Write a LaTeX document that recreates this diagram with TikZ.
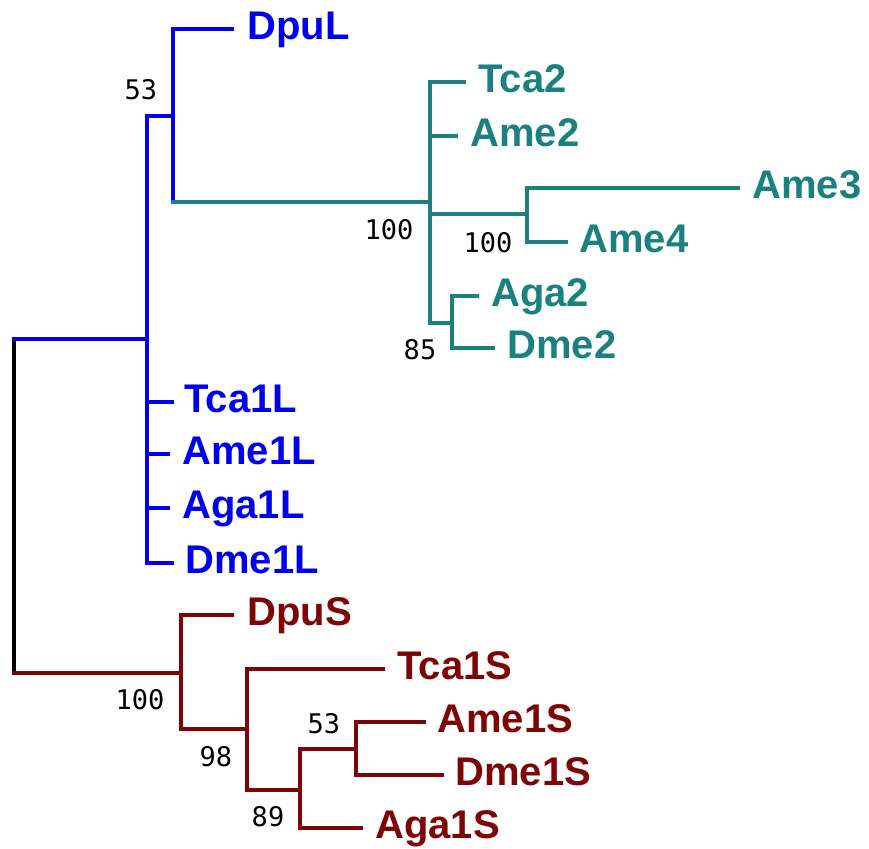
\documentclass[tikz,border=0pt]{standalone}
\usepackage{fontspec}
\setmainfont{Liberation Sans}
\newfontfamily\bsfont{DejaVu Sans Mono}
\definecolor{cblue}{RGB}{0,0,240}
\definecolor{cteal}{RGB}{26,128,128}
\definecolor{cred}{RGB}{125,5,5}
\begin{document}
\begin{tikzpicture}[x=0.5pt,y=-0.5pt,
  br/.style={line width=1.75pt, line cap=rect, line join=miter},
  leaf/.style={anchor=base west, inner sep=0pt, font=\fontsize{20}{20}\selectfont\bfseries},
  boot/.style={inner sep=0pt, font=\bsfont\fontsize{13.5}{13.5}\selectfont, text=black}]
\useasboundingbox (0,0) rectangle (869,849);
% internal nodes
\coordinate (rootT) at (14,339);
\coordinate (rootB) at (14,673);
\coordinate (L) at (147,339);
\coordinate (n53) at (173,116);
\coordinate (n53b) at (173,202);
\coordinate (Tb) at (430,202);
\coordinate (A34) at (527,214);
\coordinate (AD) at (452,323);
\coordinate (S) at (181,673);
\coordinate (n98) at (247,729);
\coordinate (n89) at (300,790);
\coordinate (n53S) at (356,749);
% tips
\coordinate (tDpuL) at (232,29);
\coordinate (tTca2) at (464,82);
\coordinate (tAme2) at (456,136);
\coordinate (tAme3) at (738,188);
\coordinate (tAme4) at (566,242);
\coordinate (tAga2) at (477,296);
\coordinate (tDme2) at (493,348);
\coordinate (tTca1L) at (172,402);
\coordinate (tAme1L) at (168,454);
\coordinate (tAga1L) at (168,508);
\coordinate (tDme1L) at (172,563);
\coordinate (tDpuS) at (232,615);
\coordinate (tTca1S) at (383,669);
\coordinate (tAme1S) at (424,722);
\coordinate (tDme1S) at (442,775);
\coordinate (tAga1S) at (361,828);
% leaf labels
\node[leaf,text=cblue] (DpuL) at (247,40) {DpuL};
\node[leaf,text=cteal] (Tca2) at (478,93) {Tca2};
\node[leaf,text=cteal] (Ame2) at (470,147) {Ame2};
\node[leaf,text=cteal] (Ame3) at (752,199) {Ame3};
\node[leaf,text=cteal] (Ame4) at (579,253) {Ame4};
\node[leaf,text=cteal] (Aga2) at (491,307) {Aga2};
\node[leaf,text=cteal] (Dme2) at (507,359) {Dme2};
\node[leaf,text=cblue] (Tca1L) at (184,413) {Tca1L};
\node[leaf,text=cblue] (Ame1L) at (182,465) {Ame1L};
\node[leaf,text=cblue] (Aga1L) at (182,519) {Aga1L};
\node[leaf,text=cblue] (Dme1L) at (185,574) {Dme1L};
\node[leaf,text=cred] (DpuS) at (247,626) {DpuS};
\node[leaf,text=cred] (Tca1S) at (397,680) {Tca1S};
\node[leaf,text=cred] (Ame1S) at (437,733) {Ame1S};
\node[leaf,text=cred] (Dme1S) at (455,786) {Dme1S};
\node[leaf,text=cred] (Aga1S) at (375,839) {Aga1S};
% branches
\draw[br,black] (rootT) -- (rootB);
\draw[br,cblue] (rootT) -- (L);
\draw[br,cred] (rootB) -- (S);
\draw[br,cblue] (L) |- (n53);
\draw[br,cblue] (L) |- (tTca1L);
\draw[br,cblue] (L) |- (tAme1L);
\draw[br,cblue] (L) |- (tAga1L);
\draw[br,cblue] (L) |- (tDme1L);
\draw[br,cblue] (n53) |- (tDpuL);
\draw[br,cblue] (n53) -- (n53b);
\draw[br,cteal] (n53b) -- (Tb);
\draw[br,cteal] (Tb) |- (tTca2);
\draw[br,cteal] (Tb) |- (tAme2);
\draw[br,cteal] (Tb) |- (A34);
\draw[br,cteal] (Tb) |- (AD);
\draw[br,cteal] (A34) |- (tAme3);
\draw[br,cteal] (A34) |- (tAme4);
\draw[br,cteal] (AD) |- (tAga2);
\draw[br,cteal] (AD) |- (tDme2);
\draw[br,cred] (S) |- (tDpuS);
\draw[br,cred] (S) |- (n98);
\draw[br,cred] (n98) |- (tTca1S);
\draw[br,cred] (n98) |- (n89);
\draw[br,cred] (n89) |- (n53S);
\draw[br,cred] (n89) |- (tAga1S);
\draw[br,cred] (n53S) |- (tAme1S);
\draw[br,cred] (n53S) |- (tDme1S);
% bootstrap values
\node[boot] (b1) at (141,90) {53};
\node[boot] (b2) at (389,230) {100};
\node[boot] (b3) at (488,243) {100};
\node[boot] (b4) at (420,350) {85};
\node[boot] (b5) at (140,700) {100};
\node[boot] (b6) at (216,757) {98};
\node[boot] (b7) at (268,817) {89};
\node[boot] (b8) at (324,724) {53};
\end{tikzpicture}
\end{document}
